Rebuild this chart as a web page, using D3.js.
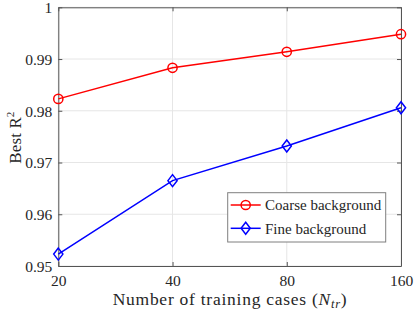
<!DOCTYPE html>
<html><head><meta charset="utf-8">
<script src="https://cdn.jsdelivr.net/npm/d3@7"></script>
<style>body{margin:0;background:#fff}svg{display:block}text{font-family:"Liberation Serif","DejaVu Serif",serif;fill:#262626}</style>
</head><body>
<script>
const trainingCases = [20, 40, 80, 160];
const coarse = [0.9823, 0.9883, 0.9914, 0.9948];
const fine = [0.9523, 0.9665, 0.9732, 0.9806];
const yTicks = [0.95, 0.96, 0.97, 0.98, 0.99, 1];
const seriesNames = ["Coarse background", "Fine background"];

const W = 415, H = 313;
const m = {left: 58.3, right: 401, top: 7.3, bottom: 266};
const svg = d3.select("body").append("svg").attr("width", W).attr("height", H);
const x = d3.scaleLog().base(2).domain([20, 160]).range([m.left, m.right]);
const y = d3.scaleLinear().domain([0.95, 1]).range([m.bottom, m.top]);

// grid
const g = svg.append("g");
g.selectAll(".gx").data(trainingCases).enter().append("line")
  .attr("x1", d => x(d)).attr("x2", d => x(d)).attr("y1", m.top).attr("y2", m.bottom)
  .attr("stroke", "#e6e6e6").attr("stroke-width", 1);
g.selectAll(".gy").data(yTicks).enter().append("line")
  .attr("y1", d => y(d)).attr("y2", d => y(d)).attr("x1", m.left).attr("x2", m.right)
  .attr("stroke", "#e6e6e6").attr("stroke-width", 1);

// axes (box with inward ticks)
const fmt = d => d === 1 ? "1" : d3.format(".2f")(d);
const axL = svg.append("g").attr("transform", `translate(${m.left},0)`)
  .call(d3.axisLeft(y).tickValues(yTicks).tickFormat(fmt).tickSizeInner(-4).tickSizeOuter(0).tickPadding(6));
const axR = svg.append("g").attr("transform", `translate(${m.right},0)`)
  .call(d3.axisRight(y).tickValues(yTicks).tickFormat("").tickSizeInner(-4).tickSizeOuter(0));
const axB = svg.append("g").attr("transform", `translate(0,${m.bottom})`)
  .call(d3.axisBottom(x).tickValues(trainingCases).tickFormat(d3.format("d")).tickSizeInner(-4).tickSizeOuter(0).tickPadding(9));
const axT = svg.append("g").attr("transform", `translate(0,${m.top})`)
  .call(d3.axisTop(x).tickValues(trainingCases).tickFormat("").tickSizeInner(-4).tickSizeOuter(0));
[axL, axR, axB, axT].forEach(a => {
  a.selectAll("path.domain").attr("stroke", "#555").attr("stroke-width", 1);
  a.selectAll(".tick line").attr("stroke", "#555");
  a.selectAll("text").attr("font-size", 15.5).attr("font-family", '"Liberation Serif",serif').attr("fill", "#262626");
});
axL.selectAll("text").attr("dy", "0.35em");

// series
const line = d3.line().x((d, i) => x(trainingCases[i])).y(d => y(d));
const series = [
  {vals: coarse, color: "#ff0000", marker: "circle"},
  {vals: fine, color: "#0000ff", marker: "diamond"}
];
function drawMarker(sel, type, color) {
  if (type === "circle") {
    sel.append("circle").attr("r", 4.6).attr("fill", "none").attr("stroke", color).attr("stroke-width", 1.5);
  } else {
    sel.append("path").attr("d", "M0,-6L4.6,0L0,6L-4.6,0Z").attr("fill", "none").attr("stroke", color).attr("stroke-width", 1.5);
  }
}
series.forEach(s => {
  svg.append("path").datum(s.vals).attr("d", line).attr("fill", "none")
    .attr("stroke", s.color).attr("stroke-width", 1.5);
  s.vals.forEach((v, i) => {
    const mk = svg.append("g").attr("transform", `translate(${x(trainingCases[i])},${y(v)})`);
    drawMarker(mk, s.marker, s.color);
  });
});

// legend
const lg = svg.append("g");
lg.append("rect").attr("x", 227.7).attr("y", 192.7).attr("width", 158).attr("height", 49.3)
  .attr("fill", "#fff").attr("stroke", "#7f7f7f").attr("stroke-width", 1);
series.forEach((s, i) => {
  const yy = 205 + i * 23.3;
  lg.append("line").attr("x1", 230.7).attr("x2", 260.7).attr("y1", yy).attr("y2", yy)
    .attr("stroke", s.color).attr("stroke-width", 1.5);
  const mk = lg.append("g").attr("transform", `translate(245.7,${yy})`);
  drawMarker(mk, s.marker, s.color);
  lg.append("text").attr("x", 265).attr("y", yy).attr("dy", "0.35em").attr("font-size", 15)
    .text(seriesNames[i]);
});

// axis labels
const xl = svg.append("text").attr("x", (m.left + m.right) / 2).attr("y", 305)
  .attr("text-anchor", "middle").attr("font-size", 17.5)
  .attr("textLength", 234).attr("lengthAdjust", "spacing");
xl.append("tspan").text("Number of training cases (");
xl.append("tspan").attr("font-style", "italic").text("N");
xl.append("tspan").attr("font-style", "italic").attr("font-size", 12.5).attr("dy", 3).text("tr");
xl.append("tspan").attr("dy", -3).text(")");

const yl = svg.append("text").attr("transform", `translate(21,${(m.top + m.bottom) / 2 + 1}) rotate(-90)`)
  .attr("text-anchor", "middle").attr("font-size", 17)
  .attr("textLength", 52).attr("lengthAdjust", "spacing");
yl.append("tspan").text("Best R");
yl.append("tspan").attr("font-size", 11).attr("dy", -7).text("2");
</script>
</body></html>
